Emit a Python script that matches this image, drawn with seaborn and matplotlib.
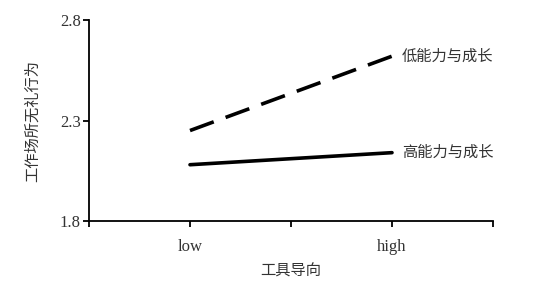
import matplotlib
matplotlib.use("Agg")
import matplotlib.pyplot as plt
import seaborn as sns
import pandas as pd

categories = ["low", "high"]
series_names = ["低能力与成长", "高能力与成长"]
low_ability = [2.25, 2.62]
high_ability = [2.08, 2.14]
y_ticks = [1.8, 2.3, 2.8]
x_label = "工具导向"
y_label = "工作场所无礼行为"

sns.set_theme(style="white")
plt.rcParams["font.family"] = ["Liberation Serif", "Noto Sans CJK SC", "DejaVu Sans"]

pos = {"low": 1, "high": 3}
df = pd.DataFrame({
    "x": [pos[c] for c in categories] * 2,
    "y": low_ability + high_ability,
    "s": [series_names[0]] * 2 + [series_names[1]] * 2,
})

fig = plt.figure(figsize=(5.6, 2.93), dpi=100)
ax = fig.add_axes([89/560, 1 - 221/293, (493 - 89)/560, (221 - 20)/293])

sns.lineplot(data=df, x="x", y="y", hue="s", style="s",
             palette=["black", "black"],
             dashes={series_names[0]: (7, 3.5), series_names[1]: ""},
             linewidth=2.6, legend=False, ax=ax)

ax.set_xlim(0, 4)
ax.set_ylim(1.8, 2.8)
ax.set_xticks([0, 1, 2, 3, 4])
ax.set_xticklabels(["", categories[0], "", categories[1], ""])
ax.set_yticks(y_ticks)
ax.set_yticklabels([str(v) for v in y_ticks])
for s in ["top", "right"]:
    ax.spines[s].set_visible(False)
for s in ["left", "bottom"]:
    ax.spines[s].set_color("black")
    ax.spines[s].set_linewidth(1.3)
ax.tick_params(axis="both", direction="out", length=4, width=1.3, color="black",
               labelsize=12, labelcolor="#333333", bottom=True, left=True)
ax.tick_params(axis="x", pad=9)
ax.tick_params(axis="y", pad=2)

ax.set_xlabel(x_label, fontsize=11, color="#333333", labelpad=7)
ax.set_ylabel(y_label, fontsize=11, color="#333333", labelpad=14)

ax.text(3.1, low_ability[1], series_names[0], fontsize=11, color="#333333",
        va="center", ha="left", clip_on=False)
ax.text(3.1, high_ability[1], series_names[1], fontsize=11, color="#333333",
        va="center", ha="left", clip_on=False)

fig.savefig("out.png", dpi=100)
